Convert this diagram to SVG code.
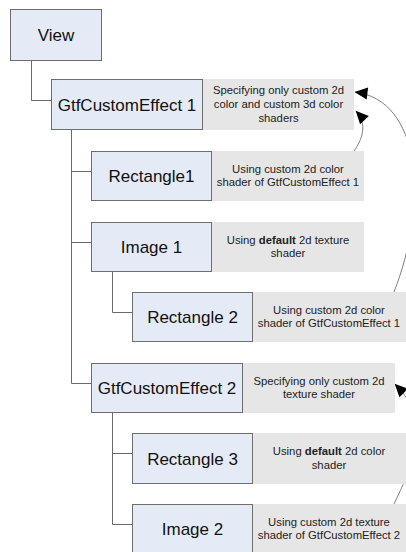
<svg xmlns="http://www.w3.org/2000/svg" width="406" height="552" viewBox="0 0 406 552">
<style>
.node{fill:#e5ebf6;stroke:#6e6e6e;stroke-width:1}
.lbl{fill:#e6e6e6;stroke:none}
.nt{font-family:"Liberation Sans",Arial,sans-serif;font-size:17px;fill:#111;text-anchor:middle}
.lt{font-family:"Liberation Sans",Arial,sans-serif;font-size:11.3px;fill:#222;text-anchor:middle}
.tree{fill:none;stroke:#6a6a6a;stroke-width:1}
.arr{fill:none;stroke:#707070;stroke-width:0.9;marker-end:url(#ah)}
</style>
<defs>
<marker id="ah" markerUnits="userSpaceOnUse" viewBox="0 0 13 12" markerWidth="13" markerHeight="12" refX="12.5" refY="6" orient="auto" overflow="visible">
<path d="M0,0 L13,6 L0,12 z" fill="#000"/>
</marker>
</defs>
<rect width="406" height="552" fill="#fff"/>
<g id="connectors">
<path class="tree" d="M31.5,61 V100.5 H51"/>
<path class="tree" d="M71.5,130 V383.5 H91"/>
<path class="tree" d="M71.5,171.5 H91" stroke="#999"/>
<path class="tree" d="M71.5,242.5 H91"/>
<path class="tree" d="M112.5,272 V312.5 H132"/>
<path class="tree" d="M112.5,413 V524.5 H132"/>
<path class="tree" d="M112.5,453.5 H132"/>
<path class="arr" d="M394,292 C430,200 420,100 355,92"/>
<path class="arr" d="M354,151 C362,140 368,124 356,111"/>
<path class="arr" d="M394,504 C420,450 430,420 395,384"/>
</g>
<g id="view">
<rect class="node" x="10.5" y="9.5" width="91" height="51"/>
<text class="nt" x="56" y="41">View</text>
</g>
<g id="effect1">
<rect class="lbl" x="203" y="79" width="151" height="51"/>
<rect class="node" x="51.5" y="79.5" width="151" height="50"/>
<text class="nt" x="127" y="111">GtfCustomEffect 1</text>
<text class="lt" x="278.5" y="94">Specifying only custom 2d</text>
<text class="lt" x="278.5" y="108">color and custom 3d color</text>
<text class="lt" x="278.5" y="122">shaders</text>
</g>
<g id="rectangle1">
<rect class="lbl" x="212" y="151" width="152" height="50"/>
<rect class="node" x="91.5" y="151.5" width="120" height="49"/>
<text class="nt" x="151.5" y="182">Rectangle1</text>
<text class="lt" x="288" y="172.5">Using custom 2d color</text>
<text class="lt" x="288" y="186">shader of GtfCustomEffect 1</text>
</g>
<g id="image1">
<rect class="lbl" x="212" y="222" width="152" height="50"/>
<rect class="node" x="91.5" y="222.5" width="120" height="49"/>
<text class="nt" x="151.5" y="253">Image 1</text>
<text class="lt" x="288" y="243.5">Using <tspan font-weight="bold">default</tspan> 2d texture</text>
<text class="lt" x="288" y="257">shader</text>
</g>
<g id="rectangle2">
<rect class="lbl" x="253" y="292" width="153" height="50"/>
<rect class="node" x="132.5" y="292.5" width="120" height="49"/>
<text class="nt" x="192.5" y="323">Rectangle 2</text>
<text class="lt" x="329" y="313.5">Using custom 2d color</text>
<text class="lt" x="329" y="327">shader of GtfCustomEffect 1</text>
</g>
<g id="effect2">
<rect class="lbl" x="243" y="363" width="152" height="50"/>
<rect class="node" x="91.5" y="363.5" width="151" height="49"/>
<text class="nt" x="167" y="394">GtfCustomEffect 2</text>
<text class="lt" x="319" y="384.5">Specifying only custom 2d</text>
<text class="lt" x="319" y="398">texture shader</text>
</g>
<g id="rectangle3">
<rect class="lbl" x="253" y="433" width="153" height="51"/>
<rect class="node" x="132.5" y="433.5" width="120" height="50"/>
<text class="nt" x="192.5" y="464.5">Rectangle 3</text>
<text class="lt" x="329" y="455">Using <tspan font-weight="bold">default</tspan> 2d color</text>
<text class="lt" x="329" y="468.5">shader</text>
</g>
<g id="image2">
<rect class="lbl" x="253" y="504" width="153" height="52"/>
<rect class="node" x="132.5" y="504.5" width="120" height="52"/>
<text class="nt" x="192.5" y="535">Image 2</text>
<text class="lt" x="329" y="525.5">Using custom 2d texture</text>
<text class="lt" x="329" y="539">shader of GtfCustomEffect 2</text>
</g>
</svg>
